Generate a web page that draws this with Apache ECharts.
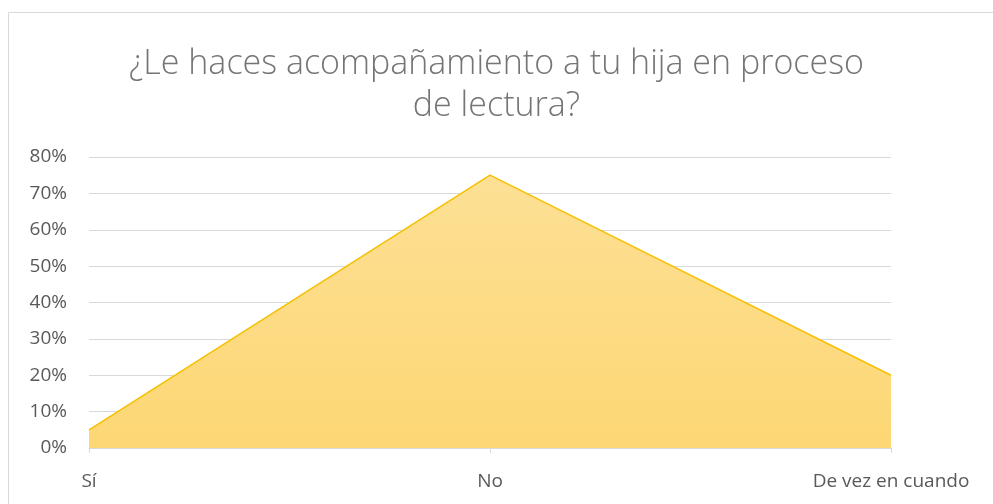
<!DOCTYPE html>
<html><head><meta charset="utf-8">
<script src="https://cdn.jsdelivr.net/npm/echarts@6/dist/echarts.min.js"></script>
<style>html,body{margin:0;padding:0;background:#fff}#c{width:993px;height:504px}</style>
</head><body><div id="c"></div>
<script>
const titleText = "¿Le haces acompañamiento a tu hija en proceso\nde lectura?";
const categories = ["Sí", "No", "De vez en cuando"];
const values = [5, 75, 20];
const yTicks = [0, 10, 20, 30, 40, 50, 60, 70, 80];

const chart = echarts.init(document.getElementById('c'));
chart.setOption({
  animation: false,
  backgroundColor: '#fff',
  graphic: [{type:'rect', shape:{x:8.5,y:12.5,width:1000,height:600}, style:{fill:'none', stroke:'#d9d9d9', lineWidth:1}, silent:true}],
  title: {
    text: titleText, left: 'center', top: 38,
    textStyle: {fontFamily: 'Open Sans', fontWeight: 300, fontSize: 34, color: '#757575', lineHeight: 42}
  },
  grid: {left: 89, right: 102, top: 157, bottom: 56},
  xAxis: {
    type: 'category', data: categories, boundaryGap: false,
    axisLine: {lineStyle: {color: '#d9d9d9', width: 1}},
    axisTick: {show: true, alignWithLabel: true, length: 5, lineStyle: {color: '#d9d9d9'}},
    axisLabel: {color: '#595959', fontSize: 19, fontFamily: 'Open Sans', margin: 24}
  },
  yAxis: {
    type: 'value', min: 0, max: 80, interval: 10,
    axisLine: {show: false}, axisTick: {show: false},
    axisLabel: {color: '#595959', fontSize: 19, fontFamily: 'Open Sans', margin: 22, formatter: v => yTicks.includes(v) ? v + '%' : ''},
    splitLine: {lineStyle: {color: '#d9d9d9', width: 1}}
  },
  series: [{
    type: 'line', data: values, symbol: 'none',
    lineStyle: {color: '#f5c000', width: 1.5},
    areaStyle: {opacity: 1, color: new echarts.graphic.LinearGradient(0, 0, 0, 1, [{offset: 0, color: '#fde095'}, {offset: 1, color: '#fdd774'}])}
  }]
});
</script></body></html>
